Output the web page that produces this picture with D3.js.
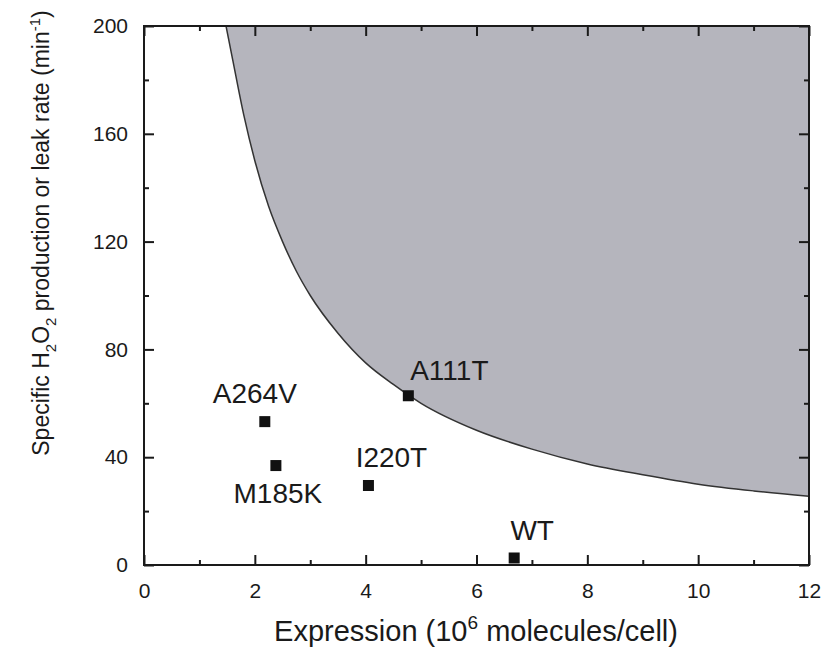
<!DOCTYPE html>
<html>
<head>
<meta charset="utf-8">
<script src="https://cdn.jsdelivr.net/npm/d3@7"></script>
<style>
  body { margin: 0; background: #fff; }
  text { font-family: "Liberation Sans", Arial, sans-serif; fill: #1a1a1a; }
</style>
</head>
<body>
<div id="chart"></div>
<script>
// mutant data points
const names = ["A264V", "M185K", "I220T", "A111T", "WT"];
const expression = [2.18, 2.38, 4.05, 4.77, 6.68];
const leakRate = [53.2, 36.9, 29.5, 62.8, 2.6];

// boundary of the shaded region
const boundaryX = [1.48, 1.6, 1.8, 2.0, 2.25, 2.5, 2.75, 3.0, 3.5, 4.0, 4.5, 5.0, 6.0, 7.0, 8.0, 9.0, 10.0, 11.0, 12.0];
const boundaryY = [200, 187.5, 167, 150, 133, 120, 109, 100, 86, 75, 67, 60, 50, 43, 37.5, 33.5, 30, 27.5, 25.5];

const xTicks = [0, 2, 4, 6, 8, 10, 12];
const yTicks = [0, 40, 80, 120, 160, 200];

const width = 826, height = 649;
const margin = {top: 26, right: 17, bottom: 84, left: 144};
const w = width - margin.left - margin.right;
const h = height - margin.top - margin.bottom;

const svg = d3.select("#chart").append("svg")
  .attr("width", width)
  .attr("height", height);

const g = svg.append("g")
  .attr("transform", `translate(${margin.left},${margin.top})`);

const x = d3.scaleLinear().domain([0, 12]).range([0, w]);
const y = d3.scaleLinear().domain([0, 200]).range([h, 0]);

svg.append("defs").append("clipPath").attr("id", "plotclip")
  .append("rect").attr("width", w).attr("height", h);

// shaded region above the curve
const curvePts = boundaryX.map((d, i) => [d, boundaryY[i]]);
const area = d3.area()
  .x(d => x(d[0]))
  .y0(y(200))
  .y1(d => y(d[1]))
  .curve(d3.curveMonotoneX);
const line = d3.line()
  .x(d => x(d[0]))
  .y(d => y(d[1]))
  .curve(d3.curveMonotoneX);

const plot = g.append("g").attr("clip-path", "url(#plotclip)");
plot.append("path").datum(curvePts)
  .attr("d", area)
  .attr("fill", "#b5b5bd");
plot.append("path").datum(curvePts)
  .attr("d", line)
  .attr("fill", "none")
  .attr("stroke", "#333")
  .attr("stroke-width", 1.5);

// axes: inward ticks on all four sides
function styleAxis(sel) {
  sel.select(".domain").remove();
  sel.selectAll(".tick line").attr("stroke", "#1a1a1a").attr("stroke-width", 2);
  sel.selectAll("text").style("font-size", "21px").attr("fill", "#1a1a1a");
}
const xMinor = d3.range(1, 12, 2);
const yMinor = d3.range(20, 200, 40);

g.append("g").attr("transform", `translate(0,${h})`)
  .call(d3.axisBottom(x).tickValues(xTicks).tickSize(-10).tickPadding(18).tickFormat(d3.format("d")))
  .call(styleAxis);
g.append("g").attr("transform", `translate(0,${h})`)
  .call(d3.axisBottom(x).tickValues(xMinor).tickSize(-5).tickFormat(""))
  .call(styleAxis);
g.append("g")
  .call(d3.axisTop(x).tickValues(xTicks).tickSize(-10).tickFormat(""))
  .call(styleAxis);
g.append("g")
  .call(d3.axisTop(x).tickValues(xMinor).tickSize(-5).tickFormat(""))
  .call(styleAxis);
g.append("g")
  .call(d3.axisLeft(y).tickValues(yTicks).tickSize(-10).tickPadding(16).tickFormat(d3.format("d")))
  .call(styleAxis);
g.append("g")
  .call(d3.axisLeft(y).tickValues(yMinor).tickSize(-5).tickFormat(""))
  .call(styleAxis);
g.append("g").attr("transform", `translate(${w},0)`)
  .call(d3.axisRight(y).tickValues(yTicks).tickSize(-10).tickFormat(""))
  .call(styleAxis);
g.append("g").attr("transform", `translate(${w},0)`)
  .call(d3.axisRight(y).tickValues(yMinor).tickSize(-5).tickFormat(""))
  .call(styleAxis);

// frame
g.append("rect")
  .attr("width", w).attr("height", h)
  .attr("fill", "none")
  .attr("stroke", "#1a1a1a")
  .attr("stroke-width", 2);

// points
const pts = names.map((n, i) => ({name: n, x: expression[i], y: leakRate[i]}));
const sq = 11;
g.selectAll(".pt").data(pts).join("rect")
  .attr("class", "pt")
  .attr("x", d => x(d.x) - sq / 2)
  .attr("y", d => y(d.y) - sq / 2)
  .attr("width", sq).attr("height", sq)
  .attr("fill", "#111");

// label placement relative to each point (px)
const labelShift = {
  "A264V": [-10, -19],
  "M185K": [2, 37],
  "I220T": [23, -18],
  "A111T": [41, -16],
  "WT": [18, -18]
};
g.selectAll(".lbl").data(pts).join("text")
  .attr("class", "lbl")
  .attr("x", d => x(d.x) + labelShift[d.name][0])
  .attr("y", d => y(d.y) + labelShift[d.name][1])
  .attr("text-anchor", "middle")
  .style("font-size", "28px")
  .text(d => d.name);

// x axis title
const xt = svg.append("text")
  .attr("x", 476)
  .attr("y", 641)
  .attr("text-anchor", "middle")
  .style("font-size", "29px");
xt.append("tspan").text("Expression (10");
xt.append("tspan").attr("dy", -12).style("font-size", "19px").text("6");
xt.append("tspan").attr("dy", 12).text(" molecules/cell)");

// y axis title
const yt = svg.append("text")
  .attr("transform", `translate(49,233) rotate(-90)`)
  .attr("text-anchor", "middle")
  .style("font-size", "23px");
yt.append("tspan").text("Specific H");
yt.append("tspan").attr("dy", 7).style("font-size", "15px").text("2");
yt.append("tspan").attr("dy", -7).text("O");
yt.append("tspan").attr("dy", 7).style("font-size", "15px").text("2");
yt.append("tspan").attr("dy", -7).text(" production or leak rate (min");
yt.append("tspan").attr("dy", -9).style("font-size", "15px").text("-1");
yt.append("tspan").attr("dy", 9).text(")");
</script>
</body>
</html>
